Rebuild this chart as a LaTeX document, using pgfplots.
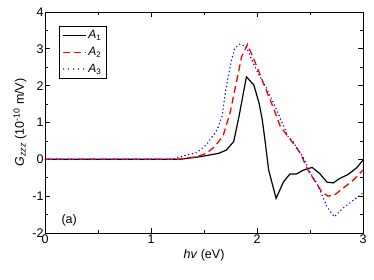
\documentclass[border=0pt]{standalone}
\usepackage{pgfplots}
\pgfplotsset{compat=1.18}
\usepackage{fontspec}
\setmainfont{Liberation Sans}
\begin{document}
\begin{tikzpicture}
\useasboundingbox (-45pt,-47pt) rectangle (329pt,233pt);
\begin{axis}[
  at={(0,0)}, anchor=south west,
  scale only axis, width=318pt, height=221pt,
  xmin=0, xmax=3, ymin=-2, ymax=4,
  xtick={0,1,2,3}, ytick={-2,-1,0,1,2,3,4},
  minor xtick={0.5,1.5,2.5}, minor ytick={-1.5,-0.5,0.5,1.5,2.5,3.5},
  tick align=inside, major tick length=5pt, minor tick length=3pt,
  tick style={black, line width=0.7pt},
  axis line style={line width=0.9pt},
  /pgf/number format/assume math mode=true,
  ticklabel style={font=\fontsize{12.5}{14}\selectfont},
  yticklabel style={xshift=2pt},
  xticklabel style={yshift=2pt},
  xlabel={\textit{hv} (eV)},
  ylabel={\textit{G}\textsubscript{\textit{zzz}} (10\textsuperscript{-10} m/V)},
  label style={font=\fontsize{12.5}{14}\selectfont},
  xlabel style={yshift=1pt},
  ylabel style={yshift=-1pt},
  legend style={at={(rel axis cs:0.045,0.937)}, anchor=north west,
     font=\fontsize{12}{14}\selectfont, row sep=3pt, inner sep=2.5pt},
  legend cell align=left,
  clip=true,
]
\addplot[black, line width=1.2pt, forget plot] coordinates {
(0,0) (1.0,0) (1.27,0.0) (1.46,0.07) (1.635,0.16) (1.71,0.25) (1.78,0.48) (1.83,1.16)
(1.90,2.24) (1.97,2.02) (2.02,1.52) (2.05,1.07) (2.075,0.52) (2.11,-0.29) (2.18,-1.06)
(2.25,-0.61) (2.31,-0.40) (2.37,-0.40) (2.44,-0.29) (2.52,-0.22) (2.59,-0.38)
(2.66,-0.62) (2.72,-0.64) (2.78,-0.52) (2.86,-0.41) (2.94,-0.23) (3.0,-0.02)
};
\addplot[color=red, line width=1.3pt, dash pattern=on 7pt off 4pt, forget plot] coordinates {
(0,0) (1.0,0) (1.25,0.0) (1.43,0.07) (1.52,0.16) (1.60,0.34) (1.68,0.64) (1.745,1.25)
(1.81,2.15) (1.855,2.79) (1.91,3.12) (1.98,2.65) (2.06,2.07) (2.15,1.43) (2.22,0.89)
(2.33,0.48) (2.41,0.16) (2.48,-0.29) (2.55,-0.61) (2.61,-0.88) (2.67,-1.0) (2.73,-0.97)
(2.81,-0.79) (2.91,-0.56) (3.0,-0.29)
};
\addplot[color=blue, line width=1.6pt, line cap=round, dash pattern=on 0pt off 3.8pt, forget plot] coordinates {
(0,0) (1.0,0) (1.2,0.0) (1.34,0.12) (1.43,0.18) (1.52,0.39) (1.59,0.66) (1.62,0.78) (1.67,1.16)
(1.71,1.97) (1.76,2.70) (1.79,3.02) (1.84,3.13) (1.90,3.06) (1.95,2.70) (2.01,2.34)
(2.09,1.93) (2.185,1.34) (2.295,0.61) (2.34,0.48) (2.44,0.03) (2.5,-0.34) (2.58,-0.74)
(2.66,-1.29) (2.73,-1.56) (2.81,-1.33) (2.91,-1.11) (3.0,-0.91)
};
\addlegendimage{legend image code/.code={\draw[black, line width=1.2pt] (0pt,0pt) -- (23pt,0pt);}}
\addlegendentry{\textit{A}\textsubscript{1}}
\addlegendimage{legend image code/.code={\draw[red, line width=1.3pt, dash pattern=on 7pt off 4pt] (0pt,0pt) -- (23pt,0pt);}}
\addlegendentry{\textit{A}\textsubscript{2}}
\addlegendimage{legend image code/.code={\draw[blue, line width=1.6pt, line cap=round, dash pattern=on 0pt off 5pt] (1pt,0pt) -- (23pt,0pt);}}
\addlegendentry{\textit{A}\textsubscript{3}}
\node[anchor=south west, font=\fontsize{12.5}{14}\selectfont, inner sep=2pt] at (rel axis cs:0.045,0.02) {(a)};
\end{axis}
\end{tikzpicture}
\end{document}
